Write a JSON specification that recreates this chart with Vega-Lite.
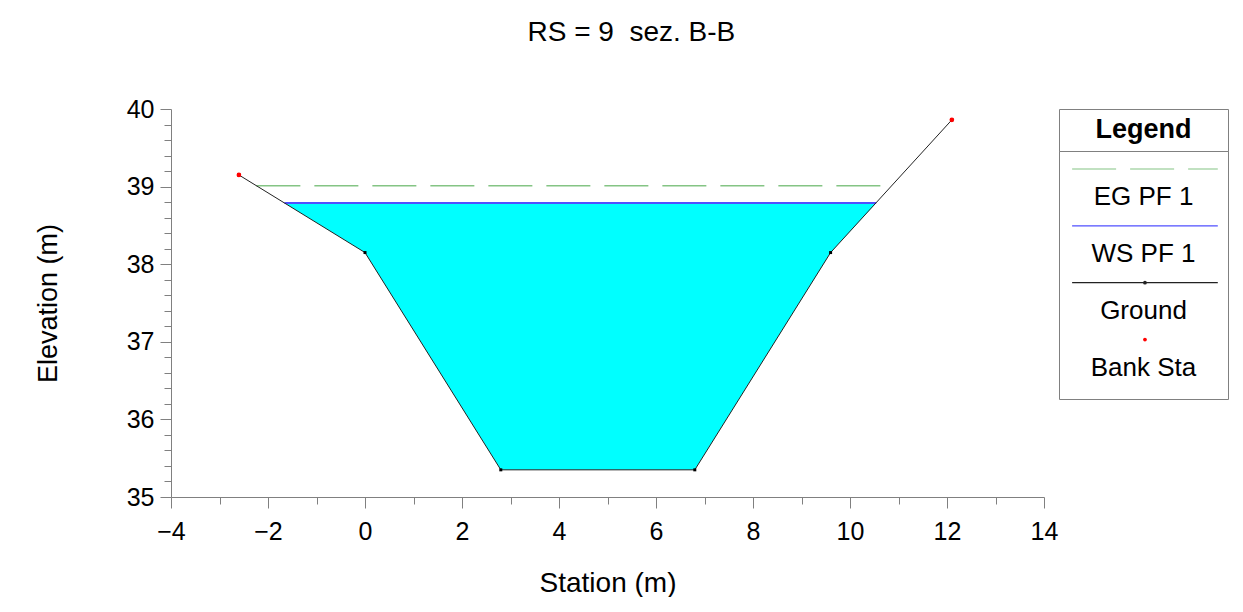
{
  "$schema": "https://vega.github.io/schema/vega-lite/v6.json",
  "padding": {"left": 34, "top": 19, "right": 0, "bottom": 0},
  "background": "white",
  "title": {"text": "RS = 9\u00a0 sez. B-B", "fontSize": 28, "fontWeight": "normal", "color": "black", "anchor": "middle", "offset": 50},
  "datasets": {
    "ground": [
      {"station": -2.6, "elevation": 39.15},
      {"station": 0, "elevation": 38.15},
      {"station": 2.8, "elevation": 35.35},
      {"station": 6.8, "elevation": 35.35},
      {"station": 9.6, "elevation": 38.15},
      {"station": 12.1, "elevation": 39.86}
    ],
    "bank": [
      {"station": -2.6, "elevation": 39.15},
      {"station": 12.1, "elevation": 39.86}
    ],
    "water": [
      {"station": -1.66, "bed": 38.79, "ws": 38.79},
      {"station": 0, "bed": 38.15, "ws": 38.79},
      {"station": 2.8, "bed": 35.35, "ws": 38.79},
      {"station": 6.8, "bed": 35.35, "ws": 38.79},
      {"station": 9.6, "bed": 38.15, "ws": 38.79},
      {"station": 10.54, "bed": 38.79, "ws": 38.79}
    ],
    "levels": [
      {"profile": "EG PF 1", "start": -2.24, "end": 10.86, "elevation": 39.01},
      {"profile": "WS PF 1", "start": -1.66, "end": 10.54, "elevation": 38.79}
    ],
    "legend": [
      {"series": "EG PF 1", "symbolSlot": "EG PF 1 symbol"},
      {"series": "WS PF 1", "symbolSlot": "WS PF 1 symbol"},
      {"series": "Ground", "symbolSlot": "Ground symbol"},
      {"series": "Bank Sta", "symbolSlot": "Bank Sta symbol"}
    ]
  },
  "hconcat": [
    {
      "width": 873,
      "height": 388,
      "view": {"stroke": null},
      "layer": [
        {
          "layer": [
            {
              "data": {"name": "water"},
              "mark": {"type": "area", "color": "#00ffff", "opacity": 1},
              "encoding": {
                "x": {"field": "station", "type": "quantitative",
                  "scale": {"domain": [-4, 14], "nice": false, "zero": false},
                  "axis": {"values": [-4, -2, 0, 2, 4, 6, 8, 10, 12, 14], "format": "d", "tickSize": 11, "labelFontSize": 25, "labelPadding": 11, "labelFlush": false, "labelOverlap": false, "labelColor": "black", "title": "Station (m)", "titleFontSize": 28, "titleFontWeight": "normal", "titleColor": "black", "titlePadding": 25, "domainColor": "#808080", "tickColor": "#808080", "grid": false}},
                "y": {"field": "bed", "type": "quantitative",
                  "scale": {"domain": [35, 40], "nice": false, "zero": false},
                  "axis": {"values": [35, 36, 37, 38, 39, 40], "format": "d", "tickSize": 11, "labelFontSize": 25, "labelPadding": 6, "labelFlush": false, "labelOverlap": false, "labelColor": "black", "title": "Elevation (m)", "titleFontSize": 27, "titleFontWeight": "normal", "titleColor": "black", "titlePadding": 64, "domainColor": "#808080", "tickColor": "#808080", "grid": false}},
                "y2": {"field": "ws"}
              }
            },
            {
              "data": {"name": "levels"},
              "transform": [{"filter": "datum.profile === 'EG PF 1'"}],
              "mark": {"type": "rule", "color": "#84c484", "strokeWidth": 1.5, "strokeDash": [44, 14]},
              "encoding": {
                "x": {"field": "start", "type": "quantitative"},
                "x2": {"field": "end"},
                "y": {"field": "elevation", "type": "quantitative"}
              }
            },
            {
              "data": {"name": "levels"},
              "transform": [{"filter": "datum.profile === 'WS PF 1'"}],
              "mark": {"type": "rule", "color": "#5050ff", "strokeWidth": 2},
              "encoding": {
                "x": {"field": "start", "type": "quantitative"},
                "x2": {"field": "end"},
                "y": {"field": "elevation", "type": "quantitative"}
              }
            },
            {
              "data": {"name": "ground"},
              "mark": {"type": "line", "color": "#222222", "strokeWidth": 1},
              "encoding": {
                "x": {"field": "station", "type": "quantitative"},
                "y": {"field": "elevation", "type": "quantitative"}
              }
            },
            {
              "data": {"name": "ground"},
              "mark": {"type": "point", "shape": "square", "filled": true, "color": "black", "size": 9, "opacity": 1},
              "encoding": {
                "x": {"field": "station", "type": "quantitative"},
                "y": {"field": "elevation", "type": "quantitative"}
              }
            }
          ]
        },
        {
          "data": {"name": "bank"},
          "mark": {"type": "point", "shape": "circle", "filled": true, "color": "#ff0000", "size": 22, "opacity": 1},
          "encoding": {
            "x": {"field": "station", "type": "quantitative",
              "scale": {"domain": [-4, 14], "nice": false, "zero": false},
              "axis": {"orient": "bottom", "values": [-3, -1, 1, 3, 5, 7, 9, 11, 13], "tickSize": 7, "labels": false, "domain": false, "title": null, "tickColor": "#808080", "grid": false}},
            "y": {"field": "elevation", "type": "quantitative",
              "scale": {"domain": [35, 40], "nice": false, "zero": false},
              "axis": {"orient": "left", "values": [35.2, 35.4, 35.6, 35.8, 36.2, 36.4, 36.6, 36.8, 37.2, 37.4, 37.6, 37.8, 38.2, 38.4, 38.6, 38.8, 39.2, 39.4, 39.6, 39.8], "tickSize": 7, "labels": false, "domain": false, "title": null, "tickColor": "#808080", "grid": false}}
          }
        }
      ],
      "resolve": {"axis": {"x": "independent", "y": "independent"}}
    },
    {
      "vconcat": [
        {
          "width": 169,
          "height": 42,
          "view": {"stroke": "#808080", "strokeWidth": 1},
          "data": {"values": [{"heading": "Legend"}]},
          "mark": {"type": "text", "fontSize": 27, "fontWeight": "bold", "baseline": "middle", "align": "center", "color": "black"},
          "encoding": {"text": {"field": "heading"}}
        },
        {
          "width": 169,
          "height": 248,
          "view": {"stroke": "#808080", "strokeWidth": 1},
          "data": {"name": "legend"},
          "layer": [
            {
              "transform": [{"filter": "datum.series !== 'Bank Sta'"}],
              "mark": {"type": "rule", "strokeWidth": 1.2},
              "encoding": {
                "x": {"datum": 0, "type": "quantitative", "scale": {"domain": [-0.09, 1.07], "nice": false, "zero": false}, "axis": null},
                "x2": {"datum": 1},
                "y": {"field": "symbolSlot", "type": "ordinal",
                  "scale": {"type": "point", "domain": ["EG PF 1 symbol", "EG PF 1", "WS PF 1 symbol", "WS PF 1", "Ground symbol", "Ground", "Bank Sta symbol", "Bank Sta"], "padding": 0.862, "align": 0.367},
                  "axis": null},
                "color": {"field": "series", "type": "nominal", "scale": {"domain": ["EG PF 1", "WS PF 1", "Ground", "Bank Sta"], "range": ["#84c484", "#5050ff", "#222222", "#ff0000"]}, "legend": null},
                "strokeDash": {"field": "series", "type": "nominal", "scale": {"domain": ["EG PF 1", "WS PF 1", "Ground"], "range": [[44, 14], [1, 0], [1, 0]]}, "legend": null}
              }
            },
            {
              "transform": [{"filter": "datum.series === 'Ground' || datum.series === 'Bank Sta'"}],
              "mark": {"type": "point", "shape": "circle", "filled": true, "size": 14, "opacity": 1},
              "encoding": {
                "x": {"datum": 0.5, "type": "quantitative"},
                "y": {"field": "symbolSlot", "type": "ordinal"},
                "color": {"field": "series", "type": "nominal", "legend": null}
              }
            },
            {
              "mark": {"type": "text", "fontSize": 26, "baseline": "middle", "align": "center", "color": "black"},
              "encoding": {
                "y": {"field": "series", "type": "ordinal"},
                "text": {"field": "series"}
              }
            }
          ]
        }
      ],
      "spacing": 0,
      "bounds": "flush"
    }
  ],
  "spacing": 15,
  "bounds": "flush",
  "config": {
    "font": "Liberation Sans",
    "view": {"stroke": null},
    "axis": {"grid": false}
  }
}
